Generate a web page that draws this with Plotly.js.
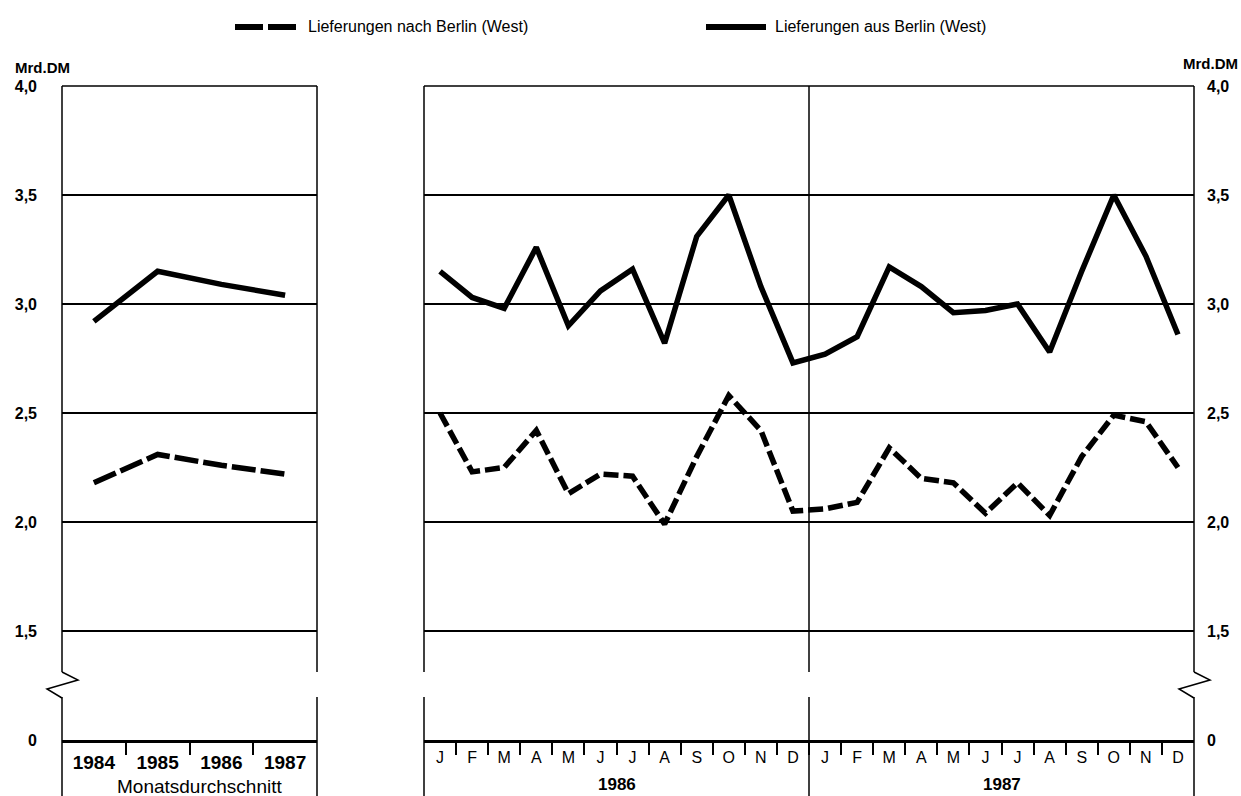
<!DOCTYPE html>
<html>
<head>
<meta charset="utf-8">
<script src="https://cdn.plot.ly/plotly-3.0.1.min.js"></script>
<style>html,body{margin:0;padding:0;background:#fff;}#chart{width:1241px;height:796px;}</style>
</head>
<body>
<div id="chart"></div>
<script>
// ---------- data ----------
const seriesNames = ['Lieferungen nach Berlin (West)', 'Lieferungen aus Berlin (West)'];
const avgYears = ['1984', '1985', '1986', '1987'];
const avgNach = [2.18, 2.31, 2.26, 2.22];
const avgAus = [2.92, 3.15, 3.09, 3.04];
const monthLabels = ['J', 'F', 'M', 'A', 'M', 'J', 'J', 'A', 'S', 'O', 'N', 'D'];
const monthYears = ['1986', '1987'];
const nach1986 = [2.50, 2.23, 2.25, 2.42, 2.13, 2.22, 2.21, 1.99, 2.30, 2.58, 2.42, 2.05];
const nach1987 = [2.06, 2.09, 2.34, 2.20, 2.18, 2.04, 2.18, 2.03, 2.30, 2.49, 2.46, 2.25];
const aus1986 = [3.15, 3.03, 2.98, 3.26, 2.90, 3.06, 3.16, 2.82, 3.31, 3.50, 3.08, 2.73];
const aus1987 = [2.77, 2.85, 3.17, 3.08, 2.96, 2.97, 3.00, 2.78, 3.15, 3.50, 3.22, 2.86];
const yTickVals = [1, 1.5, 2, 2.5, 3, 3.5, 4];
const yTickText = ['0', '1,5', '2,0', '2,5', '3,0', '3,5', '4,0'];
const unitLabel = 'Mrd.DM';
const avgAxisTitle = 'Monatsdurchschnitt';

// ---------- geometry (pixels) ----------
const W = 1241, H = 796;
const L0 = 62, L1 = 317, R0 = 424, R1 = 1194;
const TOP = 86, BASE = 740, GAP_T = 672, GAP_B = 697;
const P = x => x / W;
const Q = y => 1 - y / H;
const FONT = '"Liberation Sans", Arial, Helvetica, sans-serif';

const avgX = avgYears.map((_, i) => i);
const monthX = [];
const monthText = [];
monthYears.forEach((yr, yi) => monthLabels.forEach((m, mi) => { monthX.push(yi * monthLabels.length + mi); monthText.push(m); }));
const nMonths = monthX.length;
const nachMonthly = nach1986.concat(nach1987);
const ausMonthly = aus1986.concat(aus1987);

const lineW = 5.5;
const traces = [
  {x: avgX, y: avgNach, xaxis: 'x', yaxis: 'y', mode: 'lines', name: seriesNames[0], showlegend: false,
   line: {color: '#000', width: lineW, dash: '24px,5px'}, hoverinfo: 'x+y'},
  {x: avgX, y: avgAus, xaxis: 'x', yaxis: 'y', mode: 'lines', name: seriesNames[1], showlegend: false,
   line: {color: '#000', width: lineW}, hoverinfo: 'x+y'},
  {x: monthX, y: nachMonthly, xaxis: 'x2', yaxis: 'y2', mode: 'lines', name: seriesNames[0], showlegend: false,
   line: {color: '#000', width: lineW, dash: '15px,5px'}, hoverinfo: 'y'},
  {x: monthX, y: ausMonthly, xaxis: 'x2', yaxis: 'y2', mode: 'lines', name: seriesNames[1], showlegend: false,
   line: {color: '#000', width: lineW}, hoverinfo: 'y'}
];

// ---------- frame shapes ----------
const frame = {color: '#000', width: 1.5};
const shapes = [];
function vseg(x, y0, y1) { shapes.push({type: 'line', xref: 'paper', yref: 'paper', x0: P(x), x1: P(x), y0: Q(y0), y1: Q(y1), line: frame}); }
function hseg(x0, x1, y) { shapes.push({type: 'line', xref: 'paper', yref: 'paper', x0: P(x0), x1: P(x1), y0: Q(y), y1: Q(y), line: frame}); }
function zig(x) {
  const pts = [[x, GAP_T], [x + 16, GAP_T + 8], [x - 15, GAP_T + 17], [x, GAP_B + 1]];
  shapes.push({type: 'path', xref: 'paper', yref: 'paper', line: frame,
    path: pts.map((p, i) => (i ? 'L ' : 'M ') + P(p[0]) + ',' + Q(p[1])).join(' ')});
}
const DIV = R0 + (R1 - R0) * monthLabels.length / nMonths;
[L0, L1, R0, DIV, R1].forEach(x => { vseg(x, TOP, GAP_T); vseg(x, GAP_B, H); });
zig(L0); zig(R1);
hseg(L0, L1, TOP); hseg(R0, R1, TOP);

// legend samples
const LEG_Y = 27;
shapes.push({type: 'line', xref: 'paper', yref: 'paper', x0: P(235), x1: P(296), y0: Q(LEG_Y), y1: Q(LEG_Y), line: {color: '#000', width: 6, dash: '28px,5px'}});
shapes.push({type: 'line', xref: 'paper', yref: 'paper', x0: P(706), x1: P(766), y0: Q(LEG_Y), y1: Q(LEG_Y), line: {color: '#000', width: 6}});

// ---------- annotations ----------
const annotations = [
  {xref: 'paper', yref: 'paper', x: P(306), y: Q(LEG_Y), xanchor: 'left', yanchor: 'middle', showarrow: false, text: seriesNames[0], font: {family: FONT, size: 16, color: '#000'}},
  {xref: 'paper', yref: 'paper', x: P(773), y: Q(LEG_Y), xanchor: 'left', yanchor: 'middle', showarrow: false, text: seriesNames[1], font: {family: FONT, size: 16, color: '#000'}},
  {xref: 'paper', yref: 'paper', x: P(42), y: Q(67), xanchor: 'center', yanchor: 'middle', showarrow: false, text: unitLabel, font: {family: FONT, size: 15, color: '#000', weight: 'bold'}},
  {xref: 'paper', yref: 'paper', x: P(1210), y: Q(63), xanchor: 'center', yanchor: 'middle', showarrow: false, text: unitLabel, font: {family: FONT, size: 15, color: '#000', weight: 'bold'}},
  {xref: 'paper', yref: 'paper', x: P((L0 + L1) / 2 + 10), y: Q(786), xanchor: 'center', yanchor: 'middle', showarrow: false, text: avgAxisTitle, font: {family: FONT, size: 19, color: '#000'}}
];
monthYears.forEach((yr, yi) => {
  annotations.push({xref: 'x2', yref: 'paper', x: yi * monthLabels.length + (monthLabels.length - 1) / 2, y: Q(784),
    xanchor: 'center', yanchor: 'middle', showarrow: false, text: yr, font: {family: FONT, size: 17, color: '#000', weight: 'bold'}});
});

// ---------- axes ----------
const yCommon = {range: [1, 4], domain: [Q(BASE), Q(TOP)], tickmode: 'array', tickvals: yTickVals, ticktext: yTickText,
  showgrid: true, gridcolor: '#000', gridwidth: 1.5, zeroline: false, showline: false, ticks: '',
  tickfont: {family: FONT, size: 16, color: '#000', weight: 'bold'}, fixedrange: true};
const xCommon = {zeroline: false, showgrid: false, showline: true, linecolor: '#000', linewidth: 3, ticks: '',
  tickmode: 'array', fixedrange: true};

const layout = {
  width: W, height: H, margin: {l: 0, r: 0, t: 0, b: 0},
  paper_bgcolor: '#fff', plot_bgcolor: '#fff', showlegend: false,
  xaxis: Object.assign({}, xCommon, {domain: [P(L0), P(L1)], range: [-0.5, avgYears.length - 0.5], anchor: 'y',
    tickvals: avgX, ticktext: avgYears, tickfont: {family: FONT, size: 19, color: '#000', weight: 'bold'}, ticklabelstandoff: 3,
    minor: {tickmode: 'array', tickvals: avgX.slice(1).map(v => v - 0.5), ticks: 'outside', ticklen: 12, tickwidth: 1.5, tickcolor: '#000', showgrid: false}}),
  xaxis2: Object.assign({}, xCommon, {domain: [P(R0), P(R1)], range: [-0.5, nMonths - 0.5], anchor: 'y2',
    tickvals: monthX, ticktext: monthText, tickfont: {family: FONT, size: 16, color: '#000'}, ticklabelstandoff: 1,
    minor: {tickmode: 'array', tickvals: monthX.slice(1).map(v => v - 0.5), ticks: 'outside', ticklen: 12, tickwidth: 1.5, tickcolor: '#000', showgrid: false}}),
  yaxis: Object.assign({}, yCommon, {anchor: 'x', side: 'left', ticklabelstandoff: 24}),
  yaxis2: Object.assign({}, yCommon, {anchor: 'x2', side: 'right', ticklabelstandoff: 12}),
  shapes: shapes,
  annotations: annotations
};

Plotly.newPlot('chart', traces, layout, {displayModeBar: false});
</script>
</body>
</html>
